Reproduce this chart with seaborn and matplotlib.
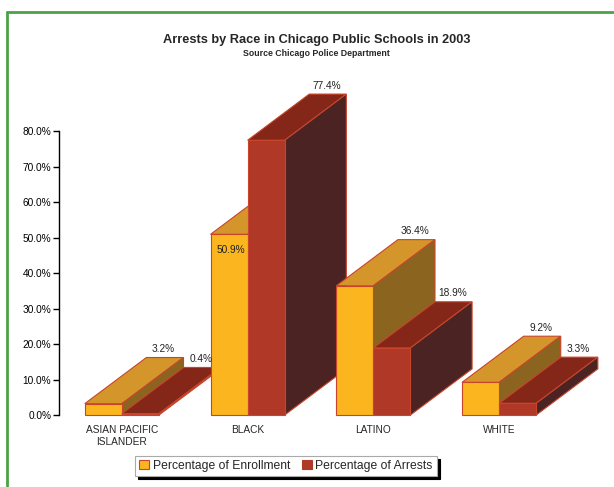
import pandas as pd
import numpy as np
import matplotlib
matplotlib.use('Agg')
import matplotlib.pyplot as plt
import seaborn as sns
from matplotlib.patches import Polygon, Patch
from matplotlib.lines import Line2D

categories = ['ASIAN PACIFIC\nISLANDER', 'BLACK', 'LATINO', 'WHITE']
enrollment = [3.2, 50.9, 36.4, 9.2]
arrests = [0.4, 77.4, 18.9, 3.3]
series = ['Percentage of Enrollment', 'Percentage of Arrests']

front_colors = ['#FBB51E', '#B03826']
top_colors = ['#D4962A', '#852718']
side_colors = ['#8B6520', '#4B2322']
edge = '#C8452C'

DX, DY = 0.49, 13.0  # fake 3d depth (x units, y units)

df = pd.DataFrame({
    'race': categories * 2,
    'pct': enrollment + arrests,
    'series': [series[0]] * len(categories) + [series[1]] * len(categories),
})

sns.set_style('white')
plt.rcParams['font.family'] = ['Liberation Sans', 'DejaVu Sans']

fig = plt.figure(figsize=(6.14, 4.87), dpi=100)
ax = fig.add_axes([0.0961, 0.1478, 0.8192, 0.5832])

sns.barplot(data=df, x='race', y='pct', hue='series', palette=front_colors,
            width=0.59, saturation=1, errorbar=None, legend=False, ax=ax,
            edgecolor=edge, linewidth=0.8)

values = [enrollment, arrests]
for j, cont in enumerate(ax.containers):
    for i, rect in enumerate(cont):
        x0, w, h = rect.get_x(), rect.get_width(), rect.get_height()
        z = 2 + i * 2 + j
        rect.set_zorder(z + 0.01)
        rect.set_clip_on(False)
        top = Polygon([(x0, h), (x0 + w, h), (x0 + w + DX, h + DY), (x0 + DX, h + DY)],
                      closed=True, facecolor=top_colors[j], edgecolor=edge, lw=0.8,
                      zorder=z, clip_on=False)
        side = Polygon([(x0 + w, 0), (x0 + w, h), (x0 + w + DX, h + DY), (x0 + w + DX, DY)],
                       closed=True, facecolor=side_colors[j], edgecolor=edge, lw=0.8,
                       zorder=z, clip_on=False)
        ax.add_patch(top)
        ax.add_patch(side)

        v = values[j][i]
        hidden = j == 0 and arrests[i] > v + DY
        if hidden:
            ax.annotate(f'{v:.1f}%', (x0 + w / 2, h), xytext=(1, -11), textcoords='offset points',
                        ha='center', va='center', fontsize=7.3, color='#222222', zorder=50)
        else:
            ax.annotate(f'{v:.1f}%', (x0 + w / 2 + DX, h + DY), xytext=(-1, 6), textcoords='offset points',
                        ha='center', va='center', fontsize=7.3, color='#222222', zorder=50,
                        annotation_clip=False)

ax.set_xlim(-0.5, 3.5)
ax.set_ylim(0, 80)
ax.set_yticks(np.arange(0, 81, 10))
ax.yaxis.set_major_formatter(lambda v, p: f'{v:.1f}%')
ax.tick_params(axis='y', left=True, length=4, width=1, labelsize=7.3, pad=1.5, colors='black')
ax.tick_params(axis='x', bottom=False, labelsize=7.3, pad=4)
ax.set_xlabel('')
ax.set_ylabel('')
for s in ['top', 'right', 'bottom']:
    ax.spines[s].set_visible(False)
ax.spines['left'].set_color('black')
ax.spines['left'].set_linewidth(1)
ax.spines['left'].set_bounds(0, 80)

fig.text(0.516, 0.918, 'Arrests by Race in Chicago Public Schools in 2003',
         ha='center', va='center', fontsize=9.2, fontweight='bold')
fig.text(0.516, 0.891, 'Source Chicago Police Department',
         ha='center', va='center', fontsize=6.3, fontweight='bold')

handles = [Patch(facecolor=front_colors[0], edgecolor=edge, lw=0.8),
           Patch(facecolor=front_colors[1], edgecolor=front_colors[1], lw=0.8)]
leg = fig.legend(handles, series, loc='center', bbox_to_anchor=(0.466, 0.0431), ncol=2,
                 frameon=True, fancybox=False, shadow={'color': 'black', 'alpha': 1},
                 fontsize=8.7, handlelength=0.8, handleheight=0.8, handletextpad=0.3,
                 columnspacing=1.0, borderpad=0.35, edgecolor='#aaaaaa', framealpha=1)
leg.get_frame().set_linewidth(0.8)

# green frame around the chart (only left and top edges fall inside the crop)
fig.add_artist(Line2D([0.0114, 0.0114], [0, 0.9754], transform=fig.transFigure, color='#4CA346', lw=2))
fig.add_artist(Line2D([0.0114, 1.0], [0.9754, 0.9754], transform=fig.transFigure, color='#4CA346', lw=2))

fig.savefig('out.png', dpi=100)
